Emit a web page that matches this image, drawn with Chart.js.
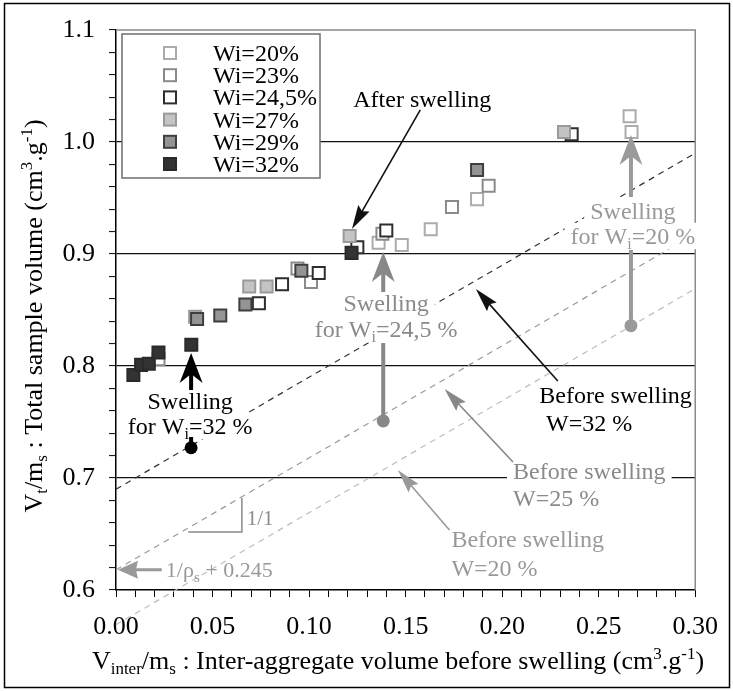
<!DOCTYPE html>
<html>
<head>
<meta charset="utf-8">
<script src="https://cdn.jsdelivr.net/npm/chart.js@4/dist/chart.umd.min.js"></script>
<style>
  html, body { margin: 0; padding: 0; background: #fff; }
  #wrap { width: 733px; height: 691px; }
</style>
</head>
<body>
<div id="wrap"><canvas id="c" width="733" height="691"></canvas></div>
<script>
// ---- measured data: total volume after swelling vs inter-aggregate volume ----
const seriesLabels = ['Wi=20%', 'Wi=23%', 'Wi=24,5%', 'Wi=27%', 'Wi=29%', 'Wi=32%'];

const w20x  = [0.136, 0.148, 0.163, 0.187, 0.266, 0.267];
const w20y  = [0.910, 0.908, 0.922, 0.949, 1.023, 1.009];
const w23x  = [0.022, 0.094, 0.101, 0.138, 0.174, 0.193];
const w23y  = [0.806, 0.887, 0.875, 0.918, 0.942, 0.961];
const w245x = [0.074, 0.086, 0.105, 0.125, 0.140, 0.236];
const w245y = [0.856, 0.873, 0.883, 0.906, 0.921, 1.007];
const w27x  = [0.041, 0.069, 0.078, 0.121, 0.232];
const w27y  = [0.844, 0.871, 0.871, 0.916, 1.009];
const w29x  = [0.042, 0.054, 0.067, 0.096, 0.187];
const w29y  = [0.842, 0.845, 0.855, 0.885, 0.975];
const w32x  = [0.009, 0.013, 0.017, 0.022, 0.039, 0.122];
const w32y  = [0.792, 0.801, 0.802, 0.812, 0.819, 0.901];

// states before swelling (slope 1/1 lines and initial points)
const beforeX   = [0.00, 0.30];
const before32Y = [0.690, 0.990];
const before25Y = [0.618, 0.918];
const before20Y = [0.569, 0.869];
const initialX  = [0.2667, 0.1384, 0.0389];
const initialY  = [0.836, 0.751, 0.727];

const xTickLabels = ['0.00', '0.05', '0.10', '0.15', '0.20', '0.25', '0.30'];
const yTickLabels = ['0.6', '0.7', '0.8', '0.9', '1.0', '1.1'];
const gridValues  = [0.7, 0.8, 0.9, 1.0];

// ---- styles ----
const FONT = '"Liberation Serif", "Times New Roman", serif';
const markerStyles = [
  { bg: '#ffffff', border: '#ababab' },
  { bg: '#ffffff', border: '#8a8a8a' },
  { bg: '#ffffff', border: '#2e2e2e' },
  { bg: '#c4c4c4', border: '#9a9a9a' },
  { bg: '#949494', border: '#3e3e3e' },
  { bg: '#333333', border: '#2a2a2a' }
];

const pts = (xs, ys) => xs.map((x, i) => ({ x, y: ys[i] }));
const seriesX = [w20x, w23x, w245x, w27x, w29x, w32x];
const seriesY = [w20y, w23y, w245y, w27y, w29y, w32y];

const datasets = seriesLabels.map((lab, i) => ({
  type: 'scatter',
  label: lab,
  data: pts(seriesX[i], seriesY[i]),
  pointStyle: 'rect',
  pointRadius: 8.5,
  pointHoverRadius: 8.5,
  pointBorderWidth: 2,
  backgroundColor: markerStyles[i].bg,
  borderColor: markerStyles[i].border,
  order: 10 - i
}));

function dashed(ys, color, clip) {
  return {
    type: 'line',
    label: '',
    data: pts(beforeX, ys),
    borderColor: color,
    borderWidth: 1.2,
    borderDash: [6, 5],
    pointRadius: 0,
    fill: false,
    clip: clip,
    order: 20
  };
}
datasets.push(dashed(before32Y, '#333333', 0));
datasets.push(dashed(before25Y, '#9a9a9a', 0));
datasets.push(dashed(before20Y, '#bdbdbd', false));
datasets.push({
  type: 'scatter',
  label: '',
  data: pts(initialX, initialY),
  pointStyle: 'circle',
  pointRadius: 6.5,
  backgroundColor: ['#9a9a9a', '#888888', '#000000'],
  borderColor: ['#9a9a9a', '#888888', '#000000'],
  borderWidth: 0,
  order: 1
});

// ---- annotation content (positions in data units) ----
const notes = [
  { x: 0.1586, y: 1.038, parts: [['After swelling', '']], color: '#000', align: 'center' },
  { x: 0.2192, y: 0.7741, parts: [['Before swelling', '']], color: '#000', align: 'left' },
  { x: 0.2227, y: 0.7490, parts: [['W=32 %', '']], color: '#000', align: 'left' },
  { x: 0.2056, y: 0.7063, parts: [['Before swelling', '']], color: '#8a8a8a', align: 'left', bg: true },
  { x: 0.2056, y: 0.6821, parts: [['W=25 %', '']], color: '#8a8a8a', align: 'left', bg: true },
  { x: 0.1737, y: 0.6455, parts: [['Before swelling', '']], color: '#999', align: 'left' },
  { x: 0.1737, y: 0.6196, parts: [['W=20 %', '']], color: '#999', align: 'left' },
  { x: 0.2677, y: 0.9384, parts: [['Swelling', '']], color: '#999', align: 'center', bg: true },
  { x: 0.2677, y: 0.9161, parts: [['for W', ''], ['i', 'sub'], ['=20 %', '']], color: '#999', align: 'center', bg: true },
  { x: 0.1399, y: 0.8560, parts: [['Swelling', '']], color: '#8a8a8a', align: 'center', bg: true },
  { x: 0.1399, y: 0.8330, parts: [['for W', ''], ['i', 'sub'], ['=24,5 %', '']], color: '#8a8a8a', align: 'center', bg: true },
  { x: 0.0384, y: 0.7688, parts: [['Swelling', '']], color: '#000', align: 'center', bg: true },
  { x: 0.0384, y: 0.7464, parts: [['for W', ''], ['i', 'sub'], ['=32 %', '']], color: '#000', align: 'center', bg: true },
  { x: 0.0258, y: 0.6180, parts: [['1/\u03C1', ''], ['s', 'sub'], [' + 0.245', '']], color: '#999', align: 'left', size: 22 },
  { x: 0.0677, y: 0.6643, parts: [['1/1', '']], color: '#8a8a8a', align: 'left', size: 21 }
];
const thinArrows = [
  { from: [0.1576, 1.0286], to: [0.1222, 0.9223], color: '#111' },
  { from: [0.2288, 0.7866], to: [0.1864, 0.8688], color: '#111' },
  { from: [0.2056, 0.7143], to: [0.1702, 0.7795], color: '#888' },
  { from: [0.1727, 0.6536], to: [0.1460, 0.7071], color: '#999' }
];
const swellArrows = [
  { from: [0.2667, 0.9509], to: [0.2667, 1.0063], color: '#9a9a9a' },
  { from: [0.1384, 0.8660], to: [0.1384, 0.9018], color: '#888888' },
  { from: [0.0389, 0.7786], to: [0.0389, 0.8116], color: '#000000' }
];
const stems = [
  { from: [0.2667, 0.8357], to: [0.2667, 0.9036], color: '#9a9a9a' },
  { from: [0.1384, 0.7509], to: [0.1384, 0.8205], color: '#888888' },
  { from: [0.0389, 0.7268], to: [0.0389, 0.7366], color: '#000000' }
];
const offsetArrow = { from: [0.0237, 0.618], to: [0.001, 0.618], color: '#999' };
const slopeMark = { x0: 0.0374, x1: 0.0652, y0: 0.6518, y1: 0.6821 };

// ---- rich text helpers (sub/superscripts) ----
function partFont(mode, size) {
  const s = mode ? Math.round(size * 0.66) : size;
  return s + 'px ' + FONT;
}
function richWidth(ctx, parts, size) {
  let w = 0;
  for (const [t, m] of parts) { ctx.font = partFont(m, size); w += ctx.measureText(t).width; }
  return w;
}
function drawRich(ctx, parts, x, cy, size, color, align) {
  const w = richWidth(ctx, parts, size);
  let cx = align === 'center' ? x - w / 2 : (align === 'right' ? x - w : x);
  const base = cy + size * 0.33;
  ctx.save();
  ctx.fillStyle = color;
  ctx.textAlign = 'left';
  ctx.textBaseline = 'alphabetic';
  for (const [t, m] of parts) {
    ctx.font = partFont(m, size);
    const dy = m === 'sub' ? size * 0.22 : (m === 'sup' ? -size * 0.38 : 0);
    ctx.fillText(t, cx, base + dy);
    cx += ctx.measureText(t).width;
  }
  ctx.restore();
}
function arrowHead(ctx, fx, fy, tx, ty, len, half, notch, color) {
  const a = Math.atan2(ty - fy, tx - fx);
  const c = Math.cos(a), s = Math.sin(a);
  const bx = tx - c * len, by = ty - s * len;
  ctx.beginPath();
  ctx.moveTo(tx, ty);
  ctx.lineTo(bx - s * half, by + c * half);
  ctx.lineTo(tx - c * len * (1 - notch), ty - s * len * (1 - notch));
  ctx.lineTo(bx + s * half, by - c * half);
  ctx.closePath();
  ctx.fillStyle = color;
  ctx.fill();
}

const decorations = {
  id: 'decorations',
  afterDatasetsDraw(chart) {
    const ctx = chart.ctx;
    const xs = chart.scales.x, ys = chart.scales.y;
    const P = (v) => [xs.getPixelForValue(v[0]), ys.getPixelForValue(v[1])];
    const area = chart.chartArea;

    // frame: top and right borders of the plot
    ctx.save();
    ctx.strokeStyle = '#8a8a8a';
    ctx.lineWidth = 1.5;
    ctx.beginPath();
    ctx.moveTo(area.left, area.top);
    ctx.lineTo(area.right, area.top);
    ctx.lineTo(area.right, area.bottom);
    ctx.stroke();

    // white boxes behind labels
    const noteSize = 24;
    for (const n of notes) {
      if (!n.bg) continue;
      const size = n.size || noteSize;
      const w = richWidth(ctx, n.parts, size);
      const [px, py] = P([n.x, n.y]);
      const left = n.align === 'center' ? px - w / 2 : px;
      ctx.fillStyle = '#fff';
      ctx.fillRect(left - 6, py - size * 0.55, w + 12, size * 1.1);
    }

    // slope triangle
    ctx.strokeStyle = '#8a8a8a';
    ctx.lineWidth = 1.5;
    ctx.beginPath();
    const a0 = P([slopeMark.x0, slopeMark.y0]), a1 = P([slopeMark.x1, slopeMark.y0]), a2 = P([slopeMark.x1, slopeMark.y1]);
    ctx.moveTo(a0[0], a0[1]); ctx.lineTo(a1[0], a1[1]); ctx.lineTo(a2[0], a2[1]);
    ctx.stroke();

    // thin arrows
    for (const ar of thinArrows) {
      const f = P(ar.from), t = P(ar.to);
      const ang = Math.atan2(t[1] - f[1], t[0] - f[0]);
      ctx.strokeStyle = ar.color;
      ctx.lineWidth = 1.6;
      ctx.beginPath();
      ctx.moveTo(f[0], f[1]);
      ctx.lineTo(t[0] - Math.cos(ang) * 14, t[1] - Math.sin(ang) * 14);
      ctx.stroke();
      arrowHead(ctx, f[0], f[1], t[0], t[1], 24, 6.5, 0.15, ar.color);
    }
    // offset arrow
    {
      const f = P(offsetArrow.from), t = P(offsetArrow.to);
      ctx.strokeStyle = offsetArrow.color;
      ctx.lineWidth = 3;
      ctx.beginPath();
      ctx.moveTo(f[0], f[1]); ctx.lineTo(t[0] + 12, t[1]);
      ctx.stroke();
      arrowHead(ctx, f[0], f[1], t[0], t[1], 20, 9, 0.1, offsetArrow.color);
    }
    // swelling stems and arrows
    for (const st of stems) {
      const f = P(st.from), t = P(st.to);
      ctx.strokeStyle = st.color;
      ctx.lineWidth = 4;
      ctx.beginPath(); ctx.moveTo(f[0], f[1]); ctx.lineTo(t[0], t[1]); ctx.stroke();
    }
    for (const ar of swellArrows) {
      const f = P(ar.from), t = P(ar.to);
      ctx.strokeStyle = ar.color;
      ctx.lineWidth = 4;
      ctx.beginPath(); ctx.moveTo(f[0], f[1]); ctx.lineTo(t[0], t[1] + 15); ctx.stroke();
      arrowHead(ctx, f[0], f[1], t[0], t[1], 30, 11.5, 0.3, ar.color);
    }

    // labels
    for (const n of notes) {
      const [px, py] = P([n.x, n.y]);
      drawRich(ctx, n.parts, px, py, n.size || noteSize, n.color, n.align);
    }

    // legend box
    const L = { x: 122, y: 34, w: 198, h: 144 };
    ctx.fillStyle = '#fff';
    ctx.fillRect(L.x, L.y, L.w, L.h);
    ctx.strokeStyle = '#6e6e6e';
    ctx.lineWidth = 1.5;
    ctx.strokeRect(L.x, L.y, L.w, L.h);
    const rowH = 22.2;
    seriesLabels.forEach((lab, i) => {
      const ds = chart.data.datasets[i];
      const cy = L.y + 19 + i * rowH;
      ctx.fillStyle = ds.backgroundColor;
      ctx.strokeStyle = ds.borderColor;
      ctx.lineWidth = 2;
      ctx.fillRect(164, cy - 6, 12, 12);
      ctx.strokeRect(164, cy - 6, 12, 12);
      drawRich(ctx, [[lab, '']], 213, cy, 24, '#000', 'left');
    });

    // axis titles
    drawRich(ctx, [['V', ''], ['inter', 'sub'], ['/m', ''], ['s', 'sub'],
      [' : Inter-aggregate volume before swelling (cm', ''], ['3', 'sup'], ['.g', ''], ['-1', 'sup'], [')', '']],
      398, 660, 26, '#000', 'center');
    ctx.save();
    ctx.translate(33, 316);
    ctx.rotate(-Math.PI / 2);
    drawRich(ctx, [['V', ''], ['t', 'sub'], ['/m', ''], ['s', 'sub'],
      [' : Total sample volume (cm', ''], ['3', 'sup'], ['.g', ''], ['-1', 'sup'], [')', '']],
      0, 0, 26, '#000', 'center');
    ctx.restore();

    // outer border
    ctx.strokeStyle = '#000';
    ctx.lineWidth = 1.5;
    ctx.strokeRect(4.5, 3.5, 725, 684);
    ctx.restore();
  }
};

const near = (v, t) => Math.abs(v - t) < 1e-6;

new Chart(document.getElementById('c'), {
  data: { datasets },
  options: {
    responsive: false,
    animation: false,
    devicePixelRatio: 1,
    layout: { padding: { top: 30, right: 23, left: 0, bottom: 0 } },
    plugins: { legend: { display: false }, tooltip: { enabled: false } },
    scales: {
      x: {
        type: 'linear', min: 0, max: 0.3,
        afterFit: (s) => { s.height = 101; },
        ticks: {
          stepSize: 0.01, autoSkip: false, maxRotation: 0, padding: 15,
          color: '#000', font: { family: FONT, size: 26 },
          callback: (v) => {
            const k = Math.round(v * 100);
            return k % 5 === 0 ? xTickLabels[k / 5] : '';
          }
        },
        grid: { drawOnChartArea: false, tickLength: 7, tickColor: '#000', tickWidth: 1 },
        border: { color: '#000', width: 1.5 },
        title: { display: false }
      },
      y: {
        type: 'linear', min: 0.6, max: 1.1,
        afterFit: (s) => { s.width = 116; },
        ticks: {
          stepSize: 0.02, autoSkip: false, padding: 14,
          color: '#000', font: { family: FONT, size: 26 },
          callback: (v) => {
            const k = Math.round(v * 100);
            return k % 10 === 0 ? yTickLabels[(k - 60) / 10] : '';
          }
        },
        grid: {
          color: (c) => (c.tick && gridValues.some(g => near(c.tick.value, g))) ? '#111' : 'rgba(0,0,0,0)',
          lineWidth: 1.2, tickLength: 7, tickColor: '#000', tickWidth: 1
        },
        border: { color: '#000', width: 1.5 },
        title: { display: false }
      }
    }
  },
  plugins: [decorations]
});
</script>
</body>
</html>
